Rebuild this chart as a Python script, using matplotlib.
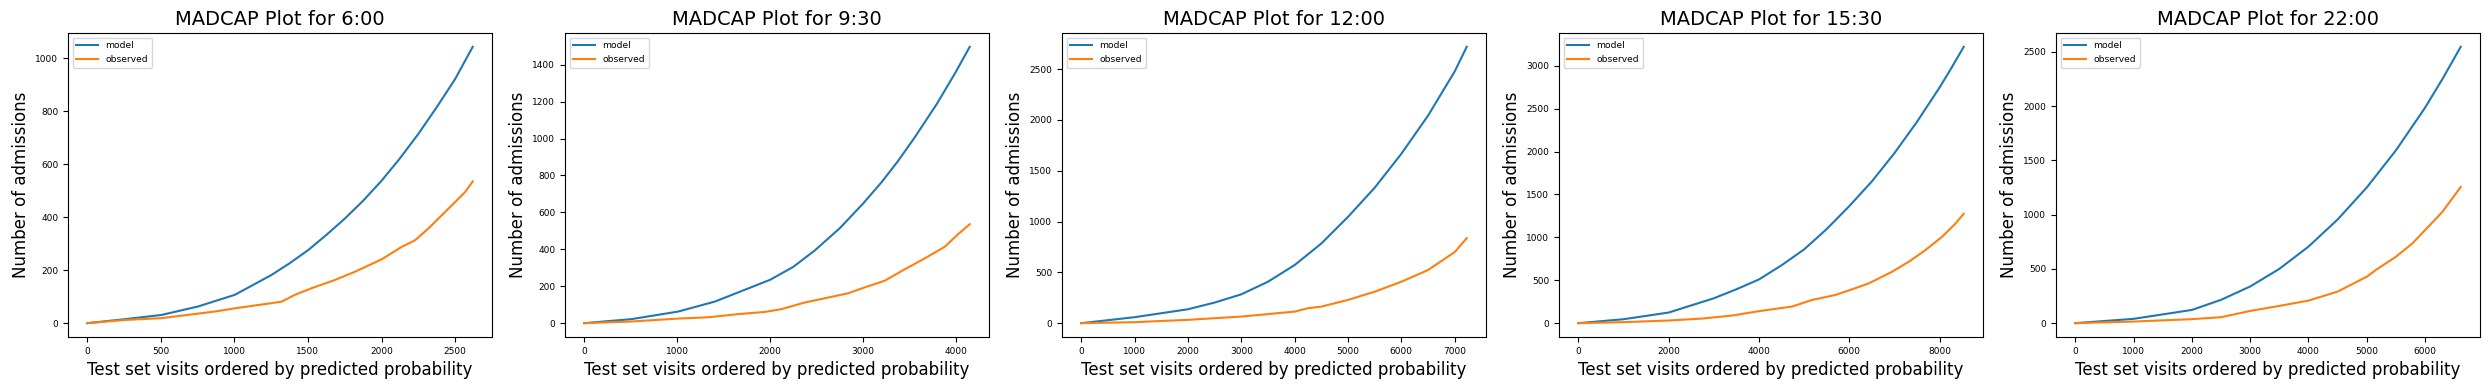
import matplotlib
matplotlib.use("Agg")
import matplotlib.pyplot as plt

titles = ["6:00", "9:30", "12:00", "15:30", "22:00"]

# Panel 1 (6:00)
x1_model = [0, 254, 504, 753, 1003, 1252, 1375, 1502, 1625, 1751, 1875, 2001, 2125, 2250, 2375, 2500, 2620]
y1_model = [0, 15, 31, 63, 107, 182, 226, 276, 333, 395, 462, 538, 622, 714, 815, 921, 1043]
x1_obs = [0, 254, 504, 867, 1003, 1116, 1320, 1411, 1525, 1683, 1819, 2001, 2137, 2228, 2318, 2409, 2500, 2568, 2620]
y1_obs = [0, 12, 19, 44, 56, 65, 81, 107, 132, 163, 194, 241, 288, 313, 357, 407, 457, 495, 535]

# Panel 2 (9:30)
x2_model = [0, 509, 1011, 1406, 2001, 2250, 2482, 2750, 3002, 3200, 3379, 3560, 3800, 4000, 4150]
y2_model = [0, 22, 63, 117, 235, 305, 394, 514, 648, 763, 879, 1008, 1191, 1361, 1497]
x2_obs = [0, 509, 1011, 1334, 1657, 1944, 2123, 2374, 2590, 2841, 3020, 3235, 3451, 3666, 3881, 4025, 4150]
y2_obs = [0, 9, 25, 32, 49, 61, 76, 112, 135, 162, 194, 230, 292, 351, 414, 482, 536]

# Panel 3 (12:00)
x3_model = [0, 1000, 2000, 2500, 3000, 3500, 4000, 4500, 5000, 5500, 6000, 6500, 7000, 7225]
y3_model = [0, 59, 137, 203, 284, 408, 572, 784, 1046, 1333, 1667, 2042, 2477, 2719]
x3_obs = [0, 1000, 2000, 2500, 3000, 4000, 4250, 4500, 5000, 5500, 6000, 6500, 7000, 7225]
y3_obs = [0, 10, 33, 49, 65, 114, 147, 163, 229, 310, 408, 523, 700, 836]

# Panel 4 (15:30)
x4_model = [0, 1000, 2000, 3000, 3500, 4000, 4500, 5000, 5500, 6000, 6500, 7000, 7500, 8000, 8250, 8532]
y4_model = [0, 46, 124, 290, 395, 510, 675, 860, 1098, 1365, 1653, 1983, 2349, 2749, 2966, 3221]
x4_obs = [0, 1000, 2000, 2743, 3407, 3997, 4735, 5177, 5693, 6062, 6431, 6947, 7316, 7684, 8053, 8348, 8532]
y4_obs = [0, 12, 31, 54, 89, 140, 194, 271, 329, 395, 464, 600, 716, 852, 1007, 1161, 1275]

# Panel 5 (22:00)
x5_model = [0, 1000, 2000, 2500, 3000, 3500, 4000, 4500, 5000, 5500, 6000, 6300, 6612]
y5_model = [0, 40, 122, 215, 338, 500, 705, 955, 1250, 1592, 1985, 2251, 2546]
x5_obs = [0, 1000, 2000, 2500, 3000, 3500, 4000, 4500, 5000, 5155, 5500, 5781, 6000, 6297, 6612]
y5_obs = [0, 15, 37, 55, 113, 159, 208, 291, 428, 490, 612, 734, 857, 1025, 1255]

panels = [
    (x1_model, y1_model, x1_obs, y1_obs),
    (x2_model, y2_model, x2_obs, y2_obs),
    (x3_model, y3_model, x3_obs, y3_obs),
    (x4_model, y4_model, x4_obs, y4_obs),
    (x5_model, y5_model, x5_obs, y5_obs),
]

W, H = 2489, 390
fig, axes = plt.subplots(1, 5, figsize=(W / 100, H / 100), dpi=100)
fig.subplots_adjust(left=68 / W, right=2480 / W, top=1 - 33 / H, bottom=1 - 337 / H, wspace=73 / 424)

for ax, t, (xm, ym, xo, yo) in zip(axes, titles, panels):
    ax.plot(xm, ym, color="#1f77b4", lw=1.5, label="model")
    ax.plot(xo, yo, color="#ff7f0e", lw=1.5, label="observed")
    ax.set_title(f"MADCAP Plot for {t}", fontsize=14)
    ax.set_xlabel("Test set visits ordered by predicted probability", fontsize=12)
    ax.set_ylabel("Number of admissions", fontsize=12)
    ax.tick_params(labelsize=6.5)
    ax.legend(loc="upper left", fontsize=6.6, handlelength=2.4)

fig.savefig("out.png", dpi=100)
